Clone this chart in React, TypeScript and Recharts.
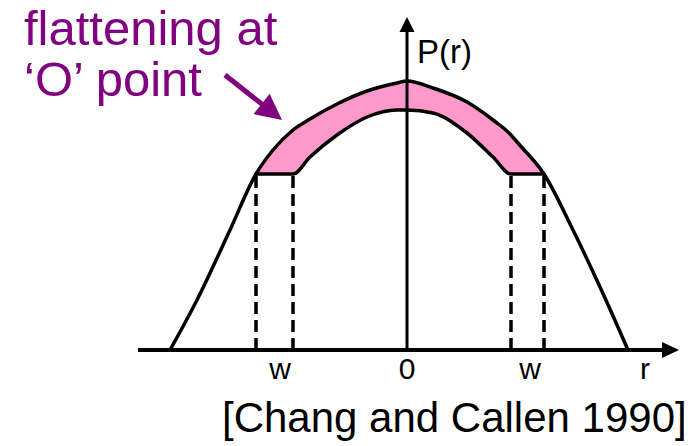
import {
  ComposedChart,
  Line,
  Area,
  XAxis,
  YAxis,
  ReferenceLine,
} from "recharts";

// radius (r) and pressure P(r)
const rValues = [-2.37, -2.1, -1.77, -1.51, -1.34, -1.14, -0.97, -0.7, -0.4, -0.1, 0, 0.26, 0.6, 0.86, 1.04, 1.1, 1.37, 1.66, 1.93, 2.21];
const outerP = [0, 0.5, 1.2, 1.76, 2.0, 2.2, 2.31, 2.46, 2.59, 2.67, 2.69, 2.62, 2.48, 2.3, 2.15, 2.08, 1.76, 1.2, 0.63, 0];
const flattenedP = [null, null, null, 1.76, 1.76, 1.76, 1.93, 2.15, 2.33, 2.4, 2.4, 2.37, 2.17, 1.93, 1.76, 1.76, 1.76, null, null, null];

// island edges (dashed)
const wEdges = [-1.51, -1.14, 1.04, 1.37];
const shelfP = 1.76;

const tickR = [-1.27, 0, 1.23, 2.38];
const tickText = ["w", "0", "w", "r"];

const data = rValues.map((r, i) => ({
  r,
  outer: outerP[i],
  flat: flattenedP[i],
  band: flattenedP[i] == null ? null : [flattenedP[i], outerP[i]],
}));

const FONT = '"Liberation Sans", Arial, sans-serif';
const PURPLE = "#800080";

const arrow =
  (color: string, width: number, head: number, half: number) =>
  (props: any) => {
    const { x1, y1, x2, y2 } = props;
    const dx = x2 - x1;
    const dy = y2 - y1;
    const len = Math.hypot(dx, dy) || 1;
    const ux = dx / len;
    const uy = dy / len;
    const bx = x2 - ux * head;
    const by = y2 - uy * head;
    const px = -uy * half;
    const py = ux * half;
    return (
      <g>
        <line x1={x1} y1={y1} x2={bx + ux * 2} y2={by + uy * 2} stroke={color} strokeWidth={width} />
        <polygon
          points={`${x2},${y2} ${bx + px},${by + py} ${bx - px},${by - py}`}
          fill={color}
        />
      </g>
    );
  };

const App = () => {
  return (
    <div style={{ position: "absolute", left: 0, top: 0, background: "#fff" }}>
      <ComposedChart
        width={690}
        height={446}
        data={data}
        margin={{ top: 15, right: 11, bottom: 56, left: 138 }}
      >
        <XAxis
          dataKey="r"
          type="number"
          domain={[-2.69, 2.72]}
          allowDataOverflow
          ticks={tickR}
          interval={0}
          tickFormatter={(v: number) => tickText[tickR.indexOf(v)] ?? ""}
          axisLine={false}
          tickLine={false}
          tickSize={0}
          tickMargin={8}
          height={40}
          tick={{ fill: "#000", fontSize: 30, fontFamily: FONT }}
        />
        <YAxis hide type="number" domain={[0, 3.35]} allowDataOverflow />

        <Area
          dataKey="band"
          type="monotone"
          fill="#ff99cc"
          fillOpacity={1}
          stroke="none"
          isAnimationActive={false}
        />
        {wEdges.map((x) => (
          <ReferenceLine
            key={x}
            segment={[
              { x, y: 0 },
              { x, y: shelfP },
            ]}
            stroke="#000"
            strokeWidth={3.5}
            strokeDasharray="12 6"
          />
        ))}
        <ReferenceLine
          segment={[
            { x: 0, y: 0 },
            { x: 0, y: 3.33 },
          ]}
          shape={arrow("#000", 3, 15, 7.5)}
        />
        <ReferenceLine
          segment={[
            { x: -2.69, y: 0 },
            { x: 2.72, y: 0 },
          ]}
          shape={arrow("#000", 4, 17, 8)}
        />
        <Line
          dataKey="outer"
          type="monotone"
          stroke="#000"
          strokeWidth={3.5}
          dot={false}
          isAnimationActive={false}
        />
        <Line
          dataKey="flat"
          type="monotone"
          stroke="#000"
          strokeWidth={3.5}
          dot={false}
          isAnimationActive={false}
        />
        <ReferenceLine
          segment={[
            { x: -1.82, y: 2.75 },
            { x: -1.25, y: 2.3 },
          ]}
          shape={arrow(PURPLE, 5, 26, 13)}
        />

        <text x={417} y={63} fontSize={33} fontFamily={FONT} fill="#000">
          P(r)
        </text>
        <text x={24} y={45} fontSize={49} fontFamily={FONT} fill={PURPLE}>
          flattening at
        </text>
        <text x={24} y={96} fontSize={49} fontFamily={FONT} fill={PURPLE}>
          ‘O’ point
        </text>
        <text x={222} y={432} fontSize={42} fontFamily={FONT} fill="#000">
          [Chang and Callen 1990]
        </text>
      </ComposedChart>
    </div>
  );
};

export default App;
